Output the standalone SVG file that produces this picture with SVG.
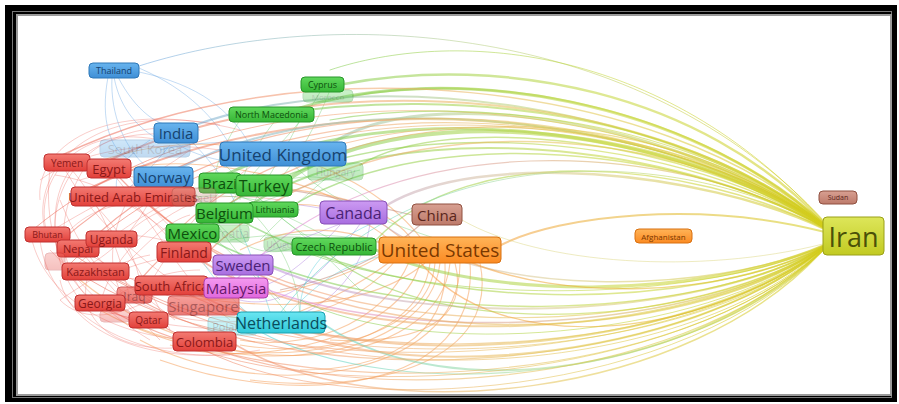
<svg xmlns="http://www.w3.org/2000/svg" width="899" height="404" viewBox="0 0 899 404">
<style>
.nd text{font-family:"Open Sans","Noto Sans",sans-serif;text-anchor:middle;dominant-baseline:central}
.nd rect{rx:4px;ry:4px;stroke-width:1}
.r rect{fill:url(#fr);stroke:#c03030}.r text{fill:#8a1818}
.b rect{fill:url(#fb);stroke:#2f78b8}.b text{fill:#16426e}
.g rect{fill:url(#fg);stroke:#28962a}.g text{fill:#0d500d}
.p rect{fill:url(#fp);stroke:#8850b8}.p text{fill:#4a2275}
.o rect{fill:url(#fo);stroke:#d87010}.o text{fill:#7a3800}
.br rect{fill:url(#fbr);stroke:#905040}.br text{fill:#5a261c}
.y rect{fill:url(#fy);stroke:#9aa018}.y text{fill:#4a5008}
.c rect{fill:url(#fc);stroke:#1aa0b0}.c text{fill:#0a4c5c}
.k rect{fill:url(#fk);stroke:#b040b0}.k text{fill:#65186a}
.fade{opacity:.32}
.e{fill:none;stroke-linecap:round;stroke-opacity:.55}
.mr{fill:none;stroke:#e84a40;stroke-width:.7;stroke-opacity:.4}
.mg{fill:none;stroke:#4cc048;stroke-width:.8;stroke-opacity:.4}
.mb{fill:none;stroke:#5a9ee0;stroke-width:.8;stroke-opacity:.45}
.mp{fill:none;stroke:#b080e0;stroke-width:1;stroke-opacity:.45}
.mo{fill:none;stroke:#f59a50;stroke-width:1.1;stroke-opacity:.5}
.mc{fill:none;stroke:#40c8d8;stroke-width:.9;stroke-opacity:.45}
</style>
<defs>
<linearGradient id="fr" x1="0" y1="0" x2="0" y2="1"><stop offset="0" stop-color="#f37a72"/><stop offset="1" stop-color="#e2403a"/></linearGradient>
<linearGradient id="fb" x1="0" y1="0" x2="0" y2="1"><stop offset="0" stop-color="#68b4ee"/><stop offset="1" stop-color="#3f8fd6"/></linearGradient>
<linearGradient id="fg" x1="0" y1="0" x2="0" y2="1"><stop offset="0" stop-color="#60d85c"/><stop offset="1" stop-color="#36b636"/></linearGradient>
<linearGradient id="fp" x1="0" y1="0" x2="0" y2="1"><stop offset="0" stop-color="#cc9af2"/><stop offset="1" stop-color="#a86ee0"/></linearGradient>
<linearGradient id="fo" x1="0" y1="0" x2="0" y2="1"><stop offset="0" stop-color="#ffb458"/><stop offset="1" stop-color="#fb8a22"/></linearGradient>
<linearGradient id="fbr" x1="0" y1="0" x2="0" y2="1"><stop offset="0" stop-color="#d8a092"/><stop offset="1" stop-color="#bd7a6a"/></linearGradient>
<linearGradient id="fy" x1="0" y1="0" x2="0" y2="1"><stop offset="0" stop-color="#dde65a"/><stop offset="1" stop-color="#c2ca22"/></linearGradient>
<linearGradient id="fc" x1="0" y1="0" x2="0" y2="1"><stop offset="0" stop-color="#6ae6f2"/><stop offset="1" stop-color="#30c8d8"/></linearGradient>
<linearGradient id="fk" x1="0" y1="0" x2="0" y2="1"><stop offset="0" stop-color="#f49af0"/><stop offset="1" stop-color="#e068dc"/></linearGradient>
<linearGradient id="gYG" gradientUnits="userSpaceOnUse" x1="825" y1="0" x2="200" y2="0"><stop offset="0" stop-color="#d2cc18"/><stop offset=".35" stop-color="#c4d63a"/><stop offset="1" stop-color="#62c85a"/></linearGradient>
<linearGradient id="gYR" gradientUnits="userSpaceOnUse" x1="825" y1="0" x2="120" y2="0"><stop offset="0" stop-color="#d2cc18"/><stop offset=".35" stop-color="#e2c650"/><stop offset=".7" stop-color="#f2a070"/><stop offset="1" stop-color="#ec6a58"/></linearGradient>
<linearGradient id="gYO" gradientUnits="userSpaceOnUse" x1="825" y1="0" x2="450" y2="0"><stop offset="0" stop-color="#d2cc18"/><stop offset="1" stop-color="#f89a40"/></linearGradient>
<linearGradient id="gYP" gradientUnits="userSpaceOnUse" x1="825" y1="0" x2="250" y2="0"><stop offset="0" stop-color="#d2cc18"/><stop offset=".5" stop-color="#d8c890"/><stop offset="1" stop-color="#b888e0"/></linearGradient>
<linearGradient id="gYC" gradientUnits="userSpaceOnUse" x1="825" y1="0" x2="250" y2="0"><stop offset="0" stop-color="#d2cc18"/><stop offset=".5" stop-color="#a8d890"/><stop offset="1" stop-color="#40d0d8"/></linearGradient>
<linearGradient id="gYB" gradientUnits="userSpaceOnUse" x1="825" y1="0" x2="150" y2="0"><stop offset="0" stop-color="#d2cc18"/><stop offset=".5" stop-color="#b8d080"/><stop offset="1" stop-color="#70a8e0"/></linearGradient>
<linearGradient id="gYK" gradientUnits="userSpaceOnUse" x1="825" y1="0" x2="260" y2="0"><stop offset="0" stop-color="#d2cc18"/><stop offset="1" stop-color="#e080e0"/></linearGradient>
</defs>

<rect x="0" y="0" width="899" height="404" fill="#fff"/>
<rect x="5" y="5" width="892" height="397" fill="#000"/>
<rect x="12.5" y="11.5" width="879" height="386" fill="none" stroke="#777" stroke-width="1"/>
<rect x="17" y="15" width="874" height="380" fill="#fff" stroke="#9a9a9a" stroke-width="2"/>

<g id="edges">
<!-- red cluster mesh -->
<path class="mr" d="M60 160 C 90 220, 140 260, 200 300"/>
<path class="mr" d="M45 235 C 100 200, 150 180, 190 150"/>
<path class="mr" d="M70 270 C 120 230, 160 200, 220 180"/>
<path class="mr" d="M100 305 C 110 260, 150 220, 200 200"/>
<path class="mr" d="M30 230 C 40 300, 120 340, 200 340"/>
<path class="mr" d="M50 170 C 40 250, 80 320, 150 320"/>
<path class="mr" d="M110 170 C 160 230, 180 280, 230 320"/>
<path class="mr" d="M130 196 C 100 250, 110 300, 150 320"/>
<path class="mr" d="M80 248 C 130 220, 200 240, 260 300"/>
<path class="mr" d="M60 200 C 100 300, 160 330, 260 320"/>
<path class="mr" d="M90 160 C 60 200, 50 260, 90 300"/>
<path class="mr" d="M140 300 C 170 250, 200 200, 260 160"/>
<path class="mr" d="M40 180 C 80 150, 150 140, 220 150"/>
<path class="mr" d="M100 280 C 140 260, 180 250, 230 260"/>
<path class="mr" d="M160 340 C 120 300, 90 260, 70 240"/>
<path class="mr" d="M65 162 C 100 200, 120 250, 130 300"/>
<path class="mr" d="M120 240 C 160 200, 210 190, 280 200"/>
<path class="mr" d="M75 300 C 120 320, 180 330, 260 330"/>
<path class="mr" d="M50 250 C 80 280, 100 310, 150 340"/>
<path class="mr" d="M100 190 C 150 210, 200 260, 240 300"/>
<path class="mr" d="M160 140 C 60 120, 30 200, 50 240"/>
<path class="mr" d="M200 130 C 70 110, 20 220, 80 300"/>
<path class="mr" d="M180 135 C 80 125, 40 180, 60 260"/>
<path class="mr" d="M90 270 C 70 320, 120 360, 200 345"/>
<path class="mr" d="M70 240 C 110 270, 150 290, 180 300"/>
<path class="mr" d="M110 300 C 140 280, 170 270, 200 270"/>
<path class="mr" d="M90 200 C 120 230, 140 260, 140 290"/>
<path class="mr" d="M150 200 C 130 240, 100 260, 80 270"/>
<path class="mr" d="M55 175 C 90 180, 140 200, 170 240"/>
<path class="mr" d="M120 160 C 140 200, 170 230, 200 250"/>
<path class="mr" d="M220 125 C 90 100, 30 170, 45 230"/>
<path class="mr" d="M240 130 C 100 95, 35 150, 40 200"/>
<path class="mr" d="M60 280 C 70 330, 150 370, 260 350"/>
<path class="mr" d="M40 240 C 50 320, 140 360, 230 355"/>
<path class="mr" d="M80 180 C 110 170, 140 175, 170 190"/>
<path class="mr" d="M70 230 C 90 210, 120 200, 150 205"/>
<path class="mr" d="M95 255 C 120 280, 150 300, 175 320"/>
<path class="mr" d="M120 270 C 150 240, 170 220, 190 215"/>
<path class="mr" d="M60 300 C 90 280, 120 260, 150 255"/>
<path class="mr" d="M170 330 C 150 290, 130 250, 110 230"/>
<path class="mr" d="M200 290 C 160 280, 120 275, 90 280"/>
<path class="mr" d="M150 300 C 110 320, 80 320, 60 300"/>
<!-- green mesh -->
<path class="mg" d="M200 180 C 250 200, 300 220, 350 250"/>
<path class="mg" d="M220 160 C 260 200, 300 240, 330 245"/>
<path class="mg" d="M260 190 C 300 170, 340 170, 380 210"/>
<path class="mg" d="M200 230 C 260 200, 320 180, 360 170"/>
<path class="mg" d="M250 210 C 280 240, 300 280, 300 320"/>
<path class="mg" d="M190 185 C 220 230, 240 260, 280 300"/>
<path class="mg" d="M300 120 C 280 160, 260 190, 250 210"/>
<path class="mg" d="M330 90 C 310 140, 290 170, 270 190"/>
<path class="mg" d="M280 150 C 320 200, 380 220, 440 240"/>
<path class="mg" d="M230 240 C 290 230, 350 235, 400 245"/>
<path class="mg" d="M240 120 C 220 150, 215 170, 215 180"/>
<path class="mg" d="M320 92 C 300 130, 250 170, 230 205"/>
<path class="mg" d="M210 215 C 240 250, 270 260, 300 245"/>
<path class="mg" d="M270 210 C 300 230, 330 260, 360 290"/>
<path class="mg" d="M180 200 C 220 190, 260 200, 300 210"/>
<path class="mg" d="M280 115 C 250 150, 240 180, 240 200"/>
<path class="mg" d="M330 175 C 300 200, 280 220, 260 240"/>
<path class="mg" d="M200 225 C 240 260, 270 290, 300 330"/>
<!-- blue mesh -->
<path class="mb" d="M114 77 C 120 110, 140 130, 160 140"/>
<path class="mb" d="M112 77 C 110 115, 125 150, 150 170"/>
<path class="mb" d="M118 77 C 135 110, 160 130, 180 125"/>
<path class="mb" d="M108 77 C 100 120, 110 150, 130 160"/>
<path class="mb" d="M139 72 C 200 85, 230 110, 250 145"/>
<path class="mb" d="M176 143 C 200 160, 250 170, 300 160"/>
<path class="mb" d="M160 150 C 200 140, 250 140, 300 150"/>
<path class="mb" d="M150 140 C 120 160, 110 180, 120 200"/>
<path class="mb" d="M139 68 C 190 90, 215 120, 230 145"/>
<path class="mb" d="M170 145 C 150 170, 130 190, 110 200"/>
<path class="mb" d="M190 140 C 220 170, 240 200, 240 230"/>
<!-- purple / cyan mesh -->
<path class="mp" d="M350 220 C 300 240, 270 250, 250 260"/>
<path class="mp" d="M340 225 C 300 270, 270 290, 240 290"/>
<path class="mp" d="M360 224 C 320 280, 280 310, 240 300"/>
<path class="mp" d="M330 210 C 280 200, 240 200, 220 210"/>
<path class="mp" d="M370 224 C 360 290, 300 330, 250 320"/>
<path class="mc" d="M300 312 C 300 270, 330 240, 380 220"/>
<path class="mc" d="M270 312 C 260 280, 250 250, 240 230"/>
<path class="mc" d="M290 312 C 320 280, 350 260, 390 255"/>
<path class="mc" d="M250 315 C 220 290, 200 260, 190 240"/>
<!-- orange US arcs -->
<path class="mo" d="M420 263 C 400 340, 250 370, 170 345"/>
<path class="mo" d="M430 263 C 420 350, 270 380, 130 325"/>
<path class="mo" d="M440 263 C 430 360, 240 390, 100 310"/>
<path class="mo" d="M450 263 C 440 370, 220 395, 80 280"/>
<path class="mo" d="M400 255 C 350 320, 260 330, 205 310"/>
<path class="mo" d="M410 260 C 380 330, 300 350, 240 340"/>
<path class="mo" d="M460 263 C 460 380, 260 405, 140 340"/>
<path class="mo" d="M390 250 C 330 290, 250 300, 200 300"/>
<path class="mo" d="M470 263 C 480 390, 300 410, 160 360"/>
<path class="mo" d="M400 237 C 330 180, 200 150, 120 170"/>
<path class="mo" d="M420 237 C 350 150, 200 120, 90 165"/>
<path class="mo" d="M385 245 C 330 220, 280 230, 240 250"/>
<path class="mo" d="M390 240 C 340 200, 300 200, 260 210"/>
<path class="mo" d="M395 258 C 340 300, 300 310, 280 320"/>
<path class="mo" d="M435 263 C 430 330, 330 360, 240 345"/>
<path class="mo" d="M445 263 C 450 340, 380 370, 300 370"/>
<path class="mo" d="M480 263 C 500 360, 380 395, 250 380"/>
<path class="mo" d="M410 237 C 380 200, 300 180, 200 190"/>
<path class="mo" d="M425 263 C 380 300, 300 320, 150 290"/>
<path class="mo" d="M455 263 C 470 320, 420 345, 330 340"/>
<path class="mo" d="M412 215 C 350 200, 300 190, 250 185" style="stroke:#c08070"/>
<path class="mo" d="M420 225 C 380 260, 330 280, 280 290" style="stroke:#c08070"/>
<!-- Iran upper fan -->
<path class="e" stroke="url(#gYB)" stroke-width="1" d="M825 222 C 640 20, 330 5, 139 66"/>
<path class="e" stroke="url(#gYG)" stroke-width="1" d="M825 223 C 660 40, 450 30, 330 70"/>
<path class="e" stroke="url(#gYG)" stroke-width="2.5" d="M825 224 C 700 90, 500 55, 344 84"/>
<path class="e" stroke="url(#gYG)" stroke-width="2" d="M825 225 C 700 110, 500 70, 353 96"/>
<path class="e" stroke="url(#gYG)" stroke-width="3" d="M825 225 C 690 100, 450 60, 300 108"/>
<path class="e" stroke="url(#gYB)" stroke-width="3" d="M825 226 C 680 120, 420 80, 330 145"/>
<path class="e" stroke="url(#gYB)" stroke-width="2" d="M825 226 C 680 110, 380 60, 195 125"/>
<path class="e" stroke="url(#gYG)" stroke-width="4" d="M825 227 C 680 130, 420 95, 290 178"/>
<path class="e" stroke="url(#gYG)" stroke-width="3" d="M825 227 C 680 130, 400 90, 225 175"/>
<path class="e" stroke="url(#gYG)" stroke-width="1.5" d="M825 227 C 690 140, 450 110, 360 165"/>
<path class="e" stroke="url(#gYG)" stroke-width="2" d="M825 228 C 680 145, 400 110, 250 205"/>
<path class="e" stroke="url(#gYG)" stroke-width="1.5" d="M825 228 C 690 150, 440 120, 295 204"/>
<path class="e" stroke="url(#gYG)" stroke-width="1.5" d="M825 229 C 690 160, 470 140, 376 240"/>
<path class="e" stroke="url(#gYP)" stroke-width="2.5" d="M825 229 C 700 170, 480 150, 387 205"/>
<path class="e" stroke="url(#gYR)" stroke-width="1.5" d="M825 225 C 660 80, 300 40, 60 156"/>
<path class="e" stroke="url(#gYR)" stroke-width="2" d="M825 226 C 660 90, 320 60, 110 160"/>
<path class="e" stroke="url(#gYR)" stroke-width="2" d="M825 227 C 660 110, 330 75, 90 188"/>
<path class="e" stroke="url(#gYR)" stroke-width="1" d="M825 226 C 650 95, 250 50, 35 228"/>
<path class="e" stroke="url(#gYR)" stroke-width="1.2" d="M825 227 C 660 105, 280 70, 100 232"/>
<path class="e" stroke="url(#gYB)" stroke-width="2" d="M825 227 C 670 115, 340 80, 180 168"/>
<path class="e" stroke="url(#gYG)" stroke-width="1.5" d="M825 228 C 670 130, 350 100, 200 225"/>
<path class="e" stroke="url(#gYR)" stroke-width="1" d="M825 226 C 650 100, 260 70, 70 264"/>
<path class="e" stroke="url(#gYR)" stroke-width="1.2" d="M825 226 C 650 100, 260 60, 60 242"/>
<path class="e" stroke="url(#gYR)" stroke-width="1.2" d="M825 226 C 660 100, 300 80, 160 250"/>
<path class="e" stroke="url(#gYR)" stroke-width="1.2" d="M825 226 C 660 95, 320 75, 140 280"/>
<path class="e" stroke="url(#gYG)" stroke-width="1.2" d="M825 225 C 690 120, 470 95, 330 120"/>
<path class="e" stroke="url(#gYG)" stroke-width="2" d="M825 226 C 690 115, 460 85, 270 115"/>
<path class="e" stroke="url(#gYR)" stroke-width="1.5" d="M825 227 C 670 120, 360 95, 200 260"/>
<path class="e" stroke="url(#gYK)" stroke-width="1.2" d="M825 228 C 680 140, 380 120, 236 280"/>
<path class="e" stroke="url(#gYC)" stroke-width="1" d="M825 228 C 690 150, 420 130, 281 312"/>
<path class="e" stroke="url(#gYO)" stroke-width="2" d="M825 232 C 700 200, 560 215, 501 245"/>
<path class="e" stroke="#d8d070" stroke-width=".8" d="M462 220 C 540 265, 700 275, 823 244"/>
<!-- Iran lower fan -->
<path class="e" stroke="url(#gYG)" stroke-width="3" d="M825 245 C 700 300, 480 300, 376 250"/>
<path class="e" stroke="url(#gYP)" stroke-width="2" d="M825 246 C 700 320, 420 330, 273 268"/>
<path class="e" stroke="url(#gYK)" stroke-width="1.5" d="M825 247 C 700 330, 420 345, 268 290"/>
<path class="e" stroke="url(#gYC)" stroke-width="2" d="M825 248 C 700 370, 450 410, 325 325"/>
<path class="e" stroke="url(#gYC)" stroke-width="1.2" d="M825 248 C 700 380, 400 410, 257 330"/>
<path class="e" stroke="url(#gYR)" stroke-width="1.5" d="M825 248 C 690 400, 380 430, 236 345"/>
<path class="e" stroke="url(#gYR)" stroke-width="2" d="M825 247 C 690 360, 380 395, 239 308"/>
<path class="e" stroke="url(#gYR)" stroke-width="2" d="M825 247 C 690 350, 360 385, 190 290"/>
<path class="e" stroke="url(#gYR)" stroke-width="1.2" d="M825 248 C 680 390, 330 420, 160 325"/>
<path class="e" stroke="url(#gYR)" stroke-width="1.2" d="M825 248 C 680 385, 300 415, 110 310"/>
<path class="e" stroke="url(#gYR)" stroke-width="1.2" d="M825 247 C 680 370, 320 400, 140 300"/>
<path class="e" stroke="url(#gYR)" stroke-width="2" d="M825 246 C 690 340, 360 360, 200 260"/>
<path class="e" stroke="url(#gYR)" stroke-width="1" d="M825 247 C 680 365, 280 395, 90 280"/>
<path class="e" stroke="url(#gYG)" stroke-width="1.5" d="M825 246 C 700 320, 400 335, 210 240"/>
<path class="e" stroke="url(#gYG)" stroke-width="1.5" d="M825 246 C 700 310, 420 320, 240 220"/>
<path class="e" stroke="url(#gYG)" stroke-width="1" d="M825 245 C 710 300, 450 310, 300 250"/>
<path class="e" stroke="url(#gYP)" stroke-width="1.5" d="M825 245 C 710 295, 480 300, 380 222"/>
<path class="e" stroke="url(#gYR)" stroke-width="1.5" d="M825 246 C 690 345, 330 370, 150 205"/>
<path class="e" stroke="url(#gYR)" stroke-width="1.2" d="M825 246 C 690 335, 300 370, 120 178"/>
<path class="e" stroke="url(#gYR)" stroke-width="1" d="M825 247 C 690 375, 300 420, 60 245"/>
<path class="e" stroke="url(#gYO)" stroke-width="1.5" d="M825 246 C 720 300, 560 300, 470 262"/>
<path class="e" stroke="url(#gYR)" stroke-width="1" d="M825 248 C 690 395, 350 425, 204 350"/>
<path class="e" stroke="url(#gYG)" stroke-width="1" d="M825 247 C 700 340, 420 360, 300 300"/>
<path class="e" stroke="url(#gYR)" stroke-width="1.2" d="M825 247 C 690 355, 340 380, 170 285"/>
<path class="e" stroke="url(#gYR)" stroke-width="1" d="M825 248 C 685 380, 330 410, 175 340"/>
<path class="e" stroke="url(#gYO)" stroke-width="1.2" d="M825 247 C 700 340, 500 360, 420 262"/>
<path class="e" stroke="url(#gYG)" stroke-width="1.2" d="M825 246 C 705 325, 440 345, 330 255"/>
<path class="e" stroke="url(#gYR)" stroke-width="1" d="M825 247 C 695 360, 310 395, 100 270"/>
</g>

<g id="n-south-korea" class="nd b fade"><rect x="100" y="140" width="90" height="17"/><text x="145" y="148.5" font-size="13">South Korea</text></g>
<g id="n-thailand" class="nd b"><rect x="89" y="63" width="50" height="15"/><text x="114" y="70.5" font-size="9">Thailand</text></g>
<g id="n-morocco" class="nd g fade"><rect x="303" y="90" width="50" height="12"/><text x="328" y="96" font-size="8">Morocco</text></g>
<g id="n-cyprus" class="nd g"><rect x="301" y="77" width="43" height="15"/><text x="322.5" y="84.5" font-size="9">Cyprus</text></g>
<g id="n-north-macedonia" class="nd g"><rect x="229" y="107" width="85" height="15"/><text x="271.5" y="114.5" font-size="9">North Macedonia</text></g>
<g id="n-india" class="nd b"><rect x="154" y="123" width="44" height="20"/><text x="176" y="133" font-size="15">India</text></g>
<g id="n-hungary" class="nd g fade"><rect x="308" y="163" width="55" height="17"/><text x="335.5" y="171.5" font-size="10">Hungary</text></g>
<g id="n-united-kingdom" class="nd b"><rect x="220" y="142" width="126" height="24"/><text x="283" y="154" font-size="17">United Kingdom</text></g>
<g id="n-yemen" class="nd r"><rect x="44" y="154" width="46" height="17"/><text x="67" y="162.5" font-size="10">Yemen</text></g>
<g id="n-egypt" class="nd r"><rect x="87" y="159" width="44" height="19"/><text x="109" y="168.5" font-size="13">Egypt</text></g>
<g id="n-norway" class="nd b"><rect x="134" y="167" width="59" height="20"/><text x="163.5" y="177" font-size="15">Norway</text></g>
<g id="n-brazil" class="nd g"><rect x="199" y="173" width="42" height="20"/><text x="202" y="183" font-size="15" style="text-anchor:start">Brazil</text></g>
<g id="n-turkey" class="nd g"><rect x="236" y="175" width="56" height="21"/><text x="264" y="185.5" font-size="16">Turkey</text></g>
<g id="n-united-arab-emirates" class="nd r"><rect x="71" y="187" width="124" height="19"/><text x="133" y="196.5" font-size="13">United Arab Emirates</text></g>
<g id="n-israel" class="nd br fade"><rect x="172" y="188" width="44" height="18"/><text x="198" y="197" font-size="11">Israel</text></g>
<g id="n-lithuania" class="nd g"><rect x="248" y="202" width="50" height="15"/><text x="275" y="209.5" font-size="9">Lithuania</text></g>
<g id="n-belgium" class="nd g"><rect x="196" y="203" width="57" height="20"/><text x="224.5" y="213" font-size="15">Belgium</text></g>
<g id="n-canada" class="nd p"><rect x="320" y="201" width="67" height="23"/><text x="353.5" y="212.5" font-size="16">Canada</text></g>
<g id="n-china" class="nd br"><rect x="412" y="204" width="50" height="21"/><text x="437" y="214.5" font-size="15">China</text></g>
<g id="n-bhutan" class="nd r"><rect x="25" y="227" width="45" height="15"/><text x="47.5" y="234.5" font-size="9">Bhutan</text></g>
<g id="n-croatia" class="nd g fade"><rect x="205" y="225" width="44" height="17"/><text x="229" y="233.5" font-size="12">Croatia</text></g>
<g id="n-mexico" class="nd g"><rect x="166" y="224" width="53" height="18"/><text x="192.5" y="233" font-size="15">Mexico</text></g>
<g id="n-nepal" class="nd r"><rect x="57" y="240" width="42" height="17"/><text x="78" y="248.5" font-size="11">Nepal</text></g>
<g id="n-uganda" class="nd r"><rect x="86" y="231" width="51" height="16"/><text x="111.5" y="239" font-size="12">Uganda</text></g>
<g id="n-finland" class="nd r"><rect x="157" y="242" width="54" height="20"/><text x="184" y="252" font-size="14">Finland</text></g>
<g id="n-uruguay" class="nd g fade"><rect x="264" y="237" width="40" height="14"/><text x="284" y="244" font-size="9">Uruguay</text></g>
<g id="n-czech-republic" class="nd g"><rect x="292" y="238" width="84" height="17"/><text x="334" y="246.5" font-size="11">Czech Republic</text></g>
<g id="n-united-states" class="nd o"><rect x="379" y="237" width="122" height="26"/><text x="440" y="250" font-size="19">United States</text></g>
<g id="n-afghanistan" class="nd o"><rect x="635" y="229" width="57" height="14"/><text x="663.5" y="236" font-size="8">Afghanistan</text></g>
<g id="n-sudan" class="nd br"><rect x="819" y="191" width="38" height="13"/><text x="838" y="197.5" font-size="7">Sudan</text></g>
<g id="n-iran" class="nd y"><rect x="823" y="217" width="61" height="38"/><text x="853.5" y="236" font-size="27">Iran</text></g>
<g id="n-faded-1" class="nd r fade"><rect x="45" y="253" width="20" height="17"/></g>
<g id="n-sweden" class="nd p"><rect x="213" y="255" width="60" height="20"/><text x="243" y="265" font-size="15">Sweden</text></g>
<g id="n-kazakhstan" class="nd r"><rect x="62" y="263" width="67" height="17"/><text x="95.5" y="271.5" font-size="11">Kazakhstan</text></g>
<g id="n-iraq" class="nd r" opacity=".75"><rect x="117" y="287" width="35" height="16"/><text x="134.5" y="296" font-size="12">Iraq</text></g>
<g id="n-singapore" class="nd r" opacity=".7"><rect x="168" y="296" width="71" height="19"/><text x="203.5" y="305.5" font-size="15">Singapore</text></g>
<g id="n-south-africa" class="nd r"><rect x="135" y="276" width="73" height="19"/><text x="171.5" y="285.5" font-size="13">South Africa</text></g>
<g id="n-malaysia" class="nd k"><rect x="204" y="278" width="64" height="20"/><text x="236" y="288" font-size="15">Malaysia</text></g>
<g id="n-georgia" class="nd r"><rect x="75" y="295" width="50" height="16"/><text x="100" y="303" font-size="12">Georgia</text></g>
<g id="n-faded-2" class="nd r fade"><rect x="100" y="310" width="30" height="12"/></g>
<g id="n-qatar" class="nd r"><rect x="129" y="312" width="39" height="16"/><text x="148.5" y="320" font-size="10">Qatar</text></g>
<g id="n-poland" class="nd c fade"><rect x="208" y="317" width="49" height="18"/><text x="230" y="326" font-size="11">Poland</text></g>
<g id="n-netherlands" class="nd c"><rect x="237" y="312" width="88" height="21"/><text x="281" y="322.5" font-size="16">Netherlands</text></g>
<g id="n-colombia" class="nd r"><rect x="173" y="332" width="63" height="19"/><text x="204.5" y="341.5" font-size="13">Colombia</text></g>
</svg>
